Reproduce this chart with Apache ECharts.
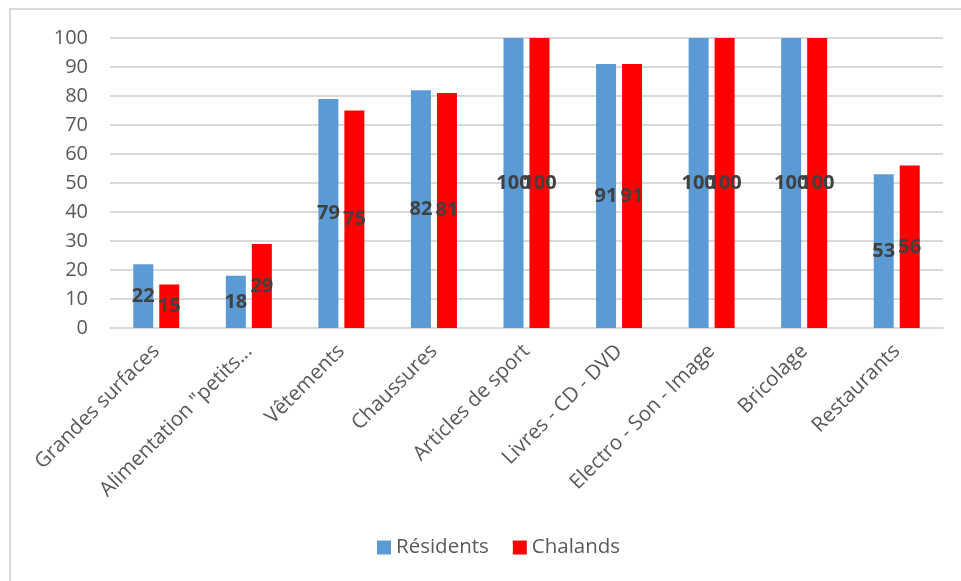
<!DOCTYPE html>
<html>
<head>
<meta charset="utf-8">
<script src="https://cdn.jsdelivr.net/npm/echarts@6/dist/echarts.min.js"></script>
<style>
  html, body { margin: 0; padding: 0; background: #ffffff; }
  #chart { width: 961px; height: 581px; }
</style>
</head>
<body>
<div id="chart"></div>
<script>
// Categories of shops and percentage values per population
const categories = [
  'Grandes surfaces',
  'Alimentation "petits...',
  'Vêtements',
  'Chaussures',
  'Articles de sport',
  'Livres - CD - DVD',
  'Electro - Son - Image',
  'Bricolage',
  'Restaurants'
];
const residents = [22, 18, 79, 82, 100, 91, 100, 100, 53];
const chalands = [15, 29, 75, 81, 100, 91, 100, 100, 56];
const yTicks = { min: 0, max: 100, interval: 10 };

const font = '"Open Sans", "Liberation Sans", sans-serif';
const labelStyle = {
  show: true,
  position: 'inside',
  color: '#404040',
  fontWeight: 'bold',
  fontSize: 20,
  fontFamily: font
};

const chart = echarts.init(document.getElementById('chart'));
chart.setOption({
  backgroundColor: '#ffffff',
  animation: false,
  graphic: [{
    type: 'rect',
    shape: { x: 10, y: 9, width: 1000, height: 1000 },
    style: { fill: 'none', stroke: '#d9d9d9', lineWidth: 2 },
    silent: true
  }],
  grid: { left: 110, right: 18, top: 38, bottom: 253, containLabel: false },
  legend: {
    bottom: 18,
    left: 372,
    itemWidth: 14,
    itemHeight: 14,
    itemGap: 24,
    icon: 'rect',
    textStyle: { color: '#595959', fontSize: 20.5, fontFamily: font },
    data: ['Résidents', 'Chalands']
  },
  xAxis: {
    type: 'category',
    data: categories,
    axisLine: { lineStyle: { color: '#d9d9d9', width: 2 } },
    axisTick: { show: false },
    axisLabel: {
      rotate: 45,
      interval: 0,
      margin: 20,
      color: '#595959',
      fontSize: 20.5,
      fontFamily: font
    }
  },
  yAxis: {
    type: 'value',
    min: yTicks.min,
    max: yTicks.max,
    interval: yTicks.interval,
    axisLine: { show: false },
    axisTick: { show: false },
    splitLine: { lineStyle: { color: '#d9d9d9', width: 2 } },
    axisLabel: {
      margin: 22,
      color: '#595959',
      fontSize: 20,
      fontFamily: font
    }
  },
  series: [
    {
      name: 'Résidents',
      type: 'bar',
      data: residents,
      barWidth: 20,
      barGap: '30%',
      itemStyle: { color: '#5b9bd5' },
      label: labelStyle
    },
    {
      name: 'Chalands',
      type: 'bar',
      data: chalands,
      barWidth: 20,
      itemStyle: { color: '#ff0000' },
      label: labelStyle
    }
  ]
});
</script>
</body>
</html>
